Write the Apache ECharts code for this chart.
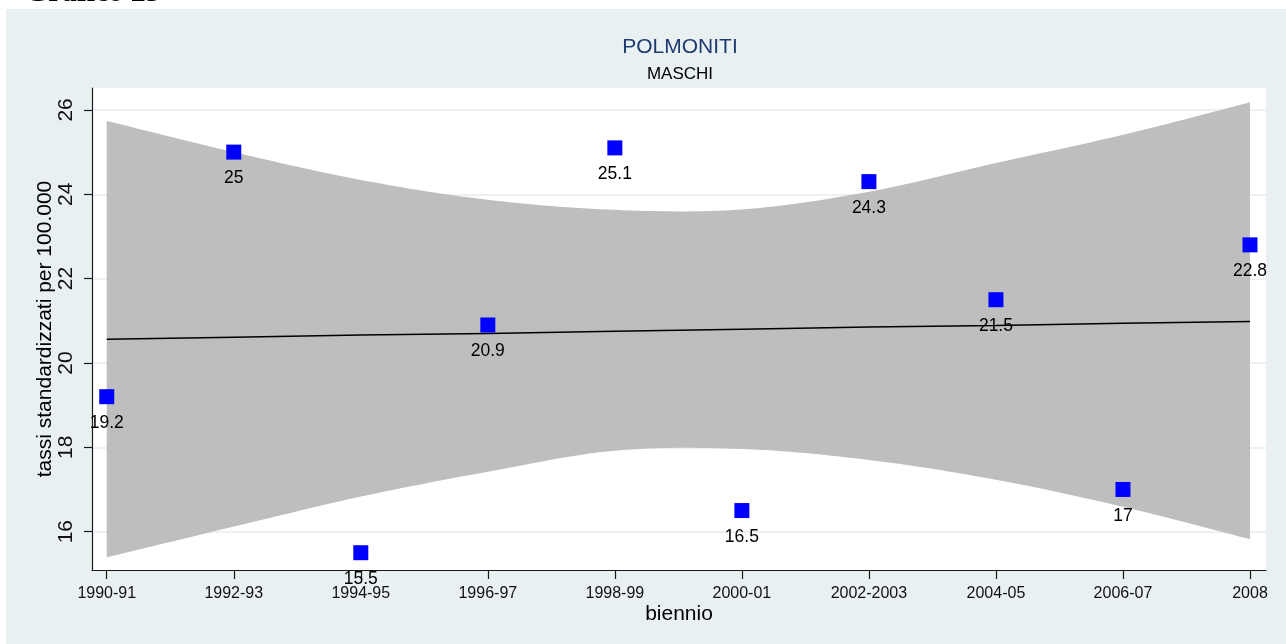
<!DOCTYPE html>
<html>
<head>
<meta charset="utf-8">
<script src="https://cdn.jsdelivr.net/npm/echarts@6/dist/echarts.min.js"></script>
<style>
  html, body { margin: 0; padding: 0; background: #ffffff; }
  #chart { width: 1286px; height: 644px; }
</style>
</head>
<body>
<div id="chart"></div>
<script>
// Biennial periods on the horizontal axis
const periods = ['1990-91', '1992-93', '1994-95', '1996-97', '1998-99', '2000-01', '2002-2003', '2004-05', '2006-07', '2008'];
// Standardised rates per 100,000 (males, pneumonia)
const rates = [19.2, 25, 15.5, 20.9, 25.1, 16.5, 24.3, 21.5, 17, 22.8];
// Linear fit and its confidence band at each period
const fitLine = [20.56, 20.61, 20.66, 20.70, 20.75, 20.80, 20.85, 20.89, 20.94, 20.98];
const ciUpper = [25.74, 25.00, 24.34, 23.87, 23.63, 23.64, 24.06, 24.74, 25.41, 26.18];
const ciLower = [15.39, 16.12, 16.83, 17.42, 17.92, 17.96, 17.70, 17.23, 16.59, 15.82];
// Axis ticks
const yTicks = [16, 18, 20, 22, 24, 26];
const xTicks = periods.map((_, i) => i);

const chart = echarts.init(document.getElementById('chart'), null, { renderer: 'canvas' });

const axisColor = '#1a1a1a';
const font = 'Liberation Sans, Arial, sans-serif';

// Smooth curve through pixel points (Catmull-Rom), used to outline the band
function smoothThrough(pts, steps) {
  const out = [];
  for (let i = 0; i < pts.length - 1; i++) {
    const p0 = pts[Math.max(0, i - 1)], p1 = pts[i], p2 = pts[i + 1], p3 = pts[Math.min(pts.length - 1, i + 2)];
    for (let s = 0; s < steps; s++) {
      const t = s / steps, t2 = t * t, t3 = t2 * t;
      const f = k => 0.5 * ((2 * p1[k]) + (-p0[k] + p2[k]) * t +
        (2 * p0[k] - 5 * p1[k] + 4 * p2[k] - p3[k]) * t2 +
        (-p0[k] + 3 * p1[k] - 3 * p2[k] + p3[k]) * t3);
      out.push([f(0), f(1)]);
    }
  }
  out.push(pts[pts.length - 1]);
  return out;
}

function renderBand(params, api) {
  const upper = ciUpper.map((v, i) => api.coord([i, v]));
  const lower = ciLower.map((v, i) => api.coord([i, v]));
  const points = smoothThrough(upper, 16).concat(smoothThrough(lower.slice().reverse(), 16));
  return {
    type: 'polygon',
    shape: { points: points },
    style: { fill: '#bebebe', stroke: null }
  };
}

chart.setOption({
  backgroundColor: '#e8f0f2',
  animation: false,
  textStyle: { fontFamily: font },
  graphic: [
    { type: 'rect', shape: { x: 0, y: 0, width: 1286, height: 9 }, style: { fill: '#ffffff' }, silent: true },
    { type: 'rect', shape: { x: 0, y: 0, width: 6, height: 644 }, style: { fill: '#ffffff' }, silent: true },
    {
      type: 'text', x: 25, y: 8, silent: true,
      style: {
        text: 'Grafico 23', fill: '#000000',
        font: 'bold 30px "Liberation Serif", "Times New Roman", serif',
        textAlign: 'left', textVerticalAlign: 'bottom'
      }
    }
  ],
  title: [
    {
      text: 'POLMONITI', left: 680, top: 37, padding: 0, textAlign: 'center',
      textStyle: { fontFamily: font, fontSize: 21, fontWeight: 'normal', color: '#1f3a70' }
    },
    {
      text: 'MASCHI', left: 680, top: 66, padding: 0, textAlign: 'center',
      textStyle: { fontFamily: font, fontSize: 17, fontWeight: 'normal', color: '#000000' }
    }
  ],
  grid: {
    left: 92, right: 20, top: 88, bottom: 74,
    show: true, backgroundColor: '#ffffff', borderWidth: 0,
    containLabel: false
  },
  xAxis: {
    type: 'value',
    min: -0.116, max: 9.126,
    name: 'biennio', nameLocation: 'middle', nameGap: 34, nameMoveOverlap: false,
    nameTextStyle: { fontFamily: font, fontSize: 21, color: '#000000' },
    axisLine: { show: true, onZero: false, lineStyle: { color: axisColor, width: 1.2 } },
    axisTick: { show: true, customValues: xTicks, length: 9, lineStyle: { color: axisColor, width: 1.2 } },
    axisLabel: {
      customValues: xTicks, margin: 16,
      fontFamily: font, fontSize: 16, color: '#111111',
      formatter: v => periods[Math.round(v)]
    },
    splitLine: { show: false }
  },
  yAxis: {
    type: 'value',
    min: 15.09, max: 26.52,
    name: 'tassi standardizzati per 100.000', nameLocation: 'middle', nameGap: 36, nameMoveOverlap: false,
    nameTextStyle: { fontFamily: font, fontSize: 21, color: '#000000' },
    axisLine: { show: true, onZero: false, lineStyle: { color: axisColor, width: 1.2 } },
    axisTick: { show: true, customValues: yTicks, length: 8, lineStyle: { color: axisColor, width: 1.2 } },
    axisLabel: {
      customValues: yTicks, rotate: 90, margin: 15,
      fontFamily: font, fontSize: 21, color: '#111111'
    },
    splitLine: { show: true, lineStyle: { color: '#e4edf0', width: 1.5 } }
  },
  series: [
    {
      name: 'ci-band', type: 'custom',
      renderItem: renderBand,
      data: [[0, ciLower[0]]],
      silent: true, clip: true, z: 2
    },
    {
      name: 'fit', type: 'line',
      data: fitLine.map((v, i) => [i, v]),
      symbol: 'none',
      lineStyle: { color: '#000000', width: 1.5 },
      silent: true, z: 3
    },
    {
      name: 'rates', type: 'scatter',
      data: rates.map((v, i) => [i, v]),
      symbol: 'rect', symbolSize: 15,
      itemStyle: { color: '#0000ff', opacity: 1 },
      label: {
        show: true, position: 'bottom', distance: 10,
        fontFamily: font, fontSize: 17.5, color: '#000000',
        formatter: p => String(p.value[1])
      },
      z: 4
    }
  ]
});
</script>
</body>
</html>
